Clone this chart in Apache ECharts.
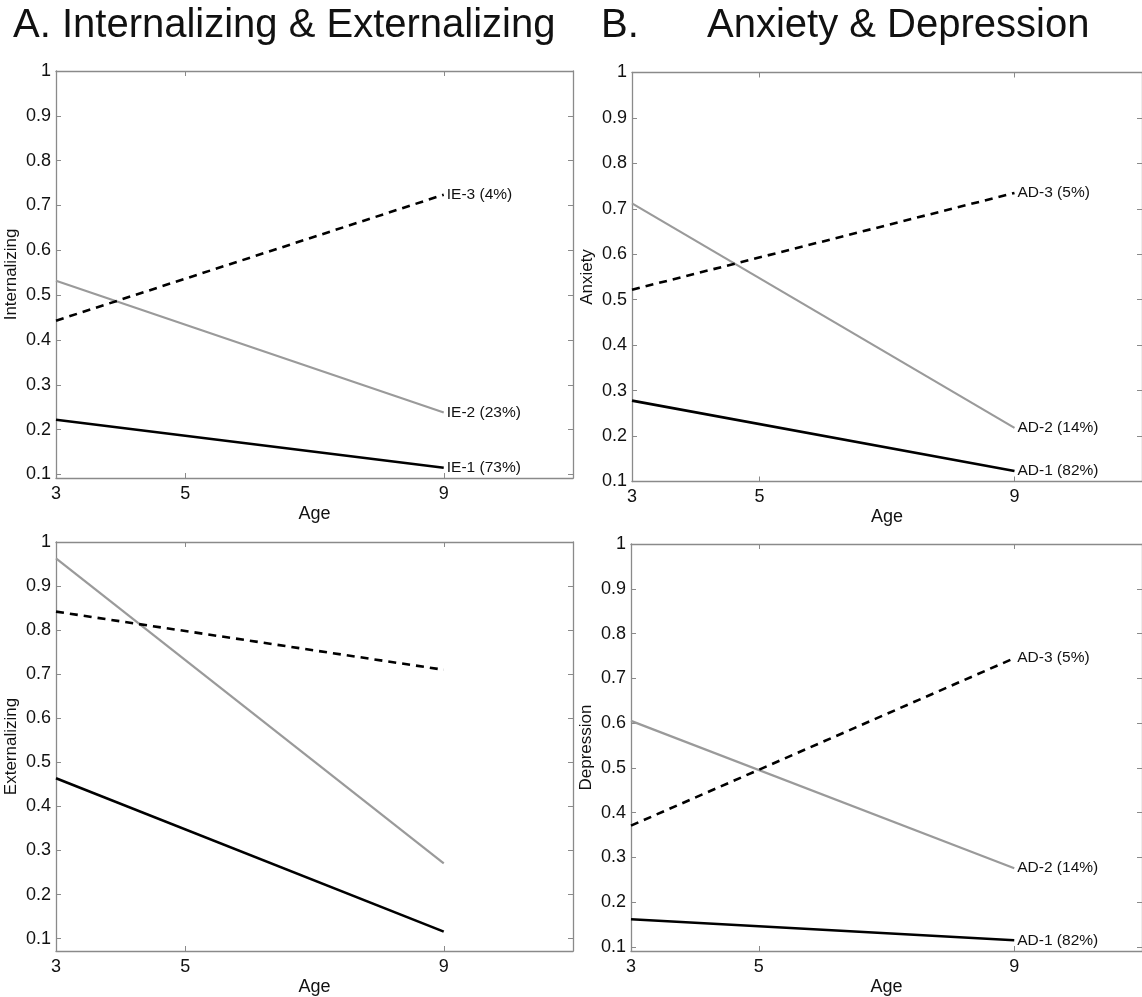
<!DOCTYPE html>
<html>
<head>
<meta charset="utf-8">
<script src="https://cdn.jsdelivr.net/npm/echarts@6/dist/echarts.min.js"></script>
<style>
  html, body { margin: 0; padding: 0; background: #fff; }
  #main { width: 1142px; height: 997px; }
</style>
</head>
<body>
<div id="main"></div>
<script>
const ages = [3, 9]
const xTicks = [3, 5, 9]
const yTicks = [0.1, 0.2, 0.3, 0.4, 0.5, 0.6, 0.7, 0.8, 0.9, 1]

// A. internalizing / externalizing classes
const intIE1 = [0.222, 0.115]
const intIE2 = [0.532, 0.238]
const intIE3 = [0.443, 0.724]
const extIE1 = [0.464, 0.116]
const extIE2 = [0.963, 0.271]
const extIE3 = [0.842, 0.71]
const ieLabels = ['IE-1 (73%)', 'IE-2 (23%)', 'IE-3 (4%)']

// B. anxiety / depression classes
const anxAD1 = [0.278, 0.123]
const anxAD2 = [0.712, 0.218]
const anxAD3 = [0.522, 0.735]
const depAD1 = [0.162, 0.115]
const depAD2 = [0.605, 0.276]
const depAD3 = [0.371, 0.745]
const adLabels = ['AD-1 (82%)', 'AD-2 (14%)', 'AD-3 (5%)']

const FONT = '"Liberation Sans", Arial, Helvetica, sans-serif'
const AXIS_GREY = '#8a8a8a'

const panels = [
  { grid: { left: 56, top: 71, width: 517, height: 407 }, yMin: 0.092, yName: 'Internalizing',
    data: [intIE1, intIE2, intIE3], labels: ieLabels },
  { grid: { left: 632, top: 72.5, width: 517, height: 409 }, yMin: 0.1, yName: 'Anxiety',
    data: [anxAD1, anxAD2, anxAD3], labels: adLabels },
  { grid: { left: 56, top: 542, width: 517, height: 409 }, yMin: 0.072, yName: 'Externalizing',
    data: [extIE1, extIE2, extIE3], labels: null },
  { grid: { left: 631, top: 544, width: 517, height: 409 }, yMin: 0.091, yName: 'Depression',
    data: [depAD1, depAD2, depAD3], labels: adLabels }
]

const lineStyles = [
  { color: '#000', width: 2.6, type: 'solid' },
  { color: '#9a9a9a', width: 2.2, type: 'solid' },
  { color: '#000', width: 2.6, type: [8, 6] }
]

const chart = echarts.init(document.getElementById('main'))

const grid = [], xAxis = [], yAxis = [], series = []
panels.forEach((p, i) => {
  grid.push(Object.assign({ containLabel: false }, p.grid))
  const baseLine = { show: true, lineStyle: { color: AXIS_GREY, width: 1.3 } }
  const tick = { show: true, inside: true, length: 5, lineStyle: { color: AXIS_GREY } }
  // bottom x axis with labels
  xAxis.push({
    type: 'value', gridIndex: i, min: 3, max: 11, position: 'bottom',
    name: 'Age', nameLocation: 'middle', nameGap: 27,
    nameTextStyle: { fontSize: 18, color: '#111', fontFamily: FONT },
    axisLine: baseLine, splitLine: { show: false },
    axisTick: Object.assign({ customValues: xTicks }, tick),
    axisLabel: { customValues: xTicks, fontSize: 18, color: '#111', fontFamily: FONT, margin: 7 }
  })
  // top mirrored x axis (box)
  xAxis.push({
    type: 'value', gridIndex: i, min: 3, max: 11, position: 'top',
    axisLine: baseLine, splitLine: { show: false },
    axisTick: Object.assign({ customValues: xTicks }, tick),
    axisLabel: { show: false }
  })
  yAxis.push({
    type: 'value', gridIndex: i, min: p.yMin, max: 1, position: 'left',
    name: p.yName, nameLocation: 'middle', nameGap: 36, nameRotate: 90,
    nameTextStyle: { fontSize: 17, color: '#111', fontFamily: FONT },
    axisLine: baseLine, splitLine: { show: false },
    axisTick: Object.assign({ customValues: yTicks }, tick),
    axisLabel: {
      customValues: yTicks, fontSize: 18, color: '#111', fontFamily: FONT, margin: 5,
      formatter: v => (Math.abs(v - 1) < 1e-9 ? '1' : v.toFixed(1))
    }
  })
  yAxis.push({
    type: 'value', gridIndex: i, min: p.yMin, max: 1, position: 'right',
    axisLine: baseLine, splitLine: { show: false },
    axisTick: Object.assign({ customValues: yTicks }, tick),
    axisLabel: { show: false }
  })
  p.data.forEach((vals, j) => {
    series.push({
      type: 'line',
      name: p.labels ? p.labels[j] : 'class ' + (j + 1),
      xAxisIndex: i * 2, yAxisIndex: i * 2,
      data: ages.map((a, k) => [a, vals[k]]),
      symbol: 'none', silent: true,
      lineStyle: lineStyles[j],
      endLabel: {
        show: !!p.labels, formatter: '{a}', distance: 3,
        fontSize: 15.5, color: '#111', fontFamily: FONT
      }
    })
  })
})

const titleStyle = { fontSize: 40, fontWeight: 'normal', color: '#111', fontFamily: FONT }
const option = {
  animation: false,
  backgroundColor: '#fff',
  title: [
    { text: 'A. Internalizing & Externalizing', left: 13, top: 6, padding: 0, textStyle: titleStyle },
    { text: 'B.', left: 601, top: 6, padding: 0, textStyle: titleStyle },
    { text: 'Anxiety & Depression', left: 707, top: 6, padding: 0, textStyle: titleStyle }
  ],
  grid, xAxis, yAxis, series
}

chart.setOption(option)
</script>
</body>
</html>
